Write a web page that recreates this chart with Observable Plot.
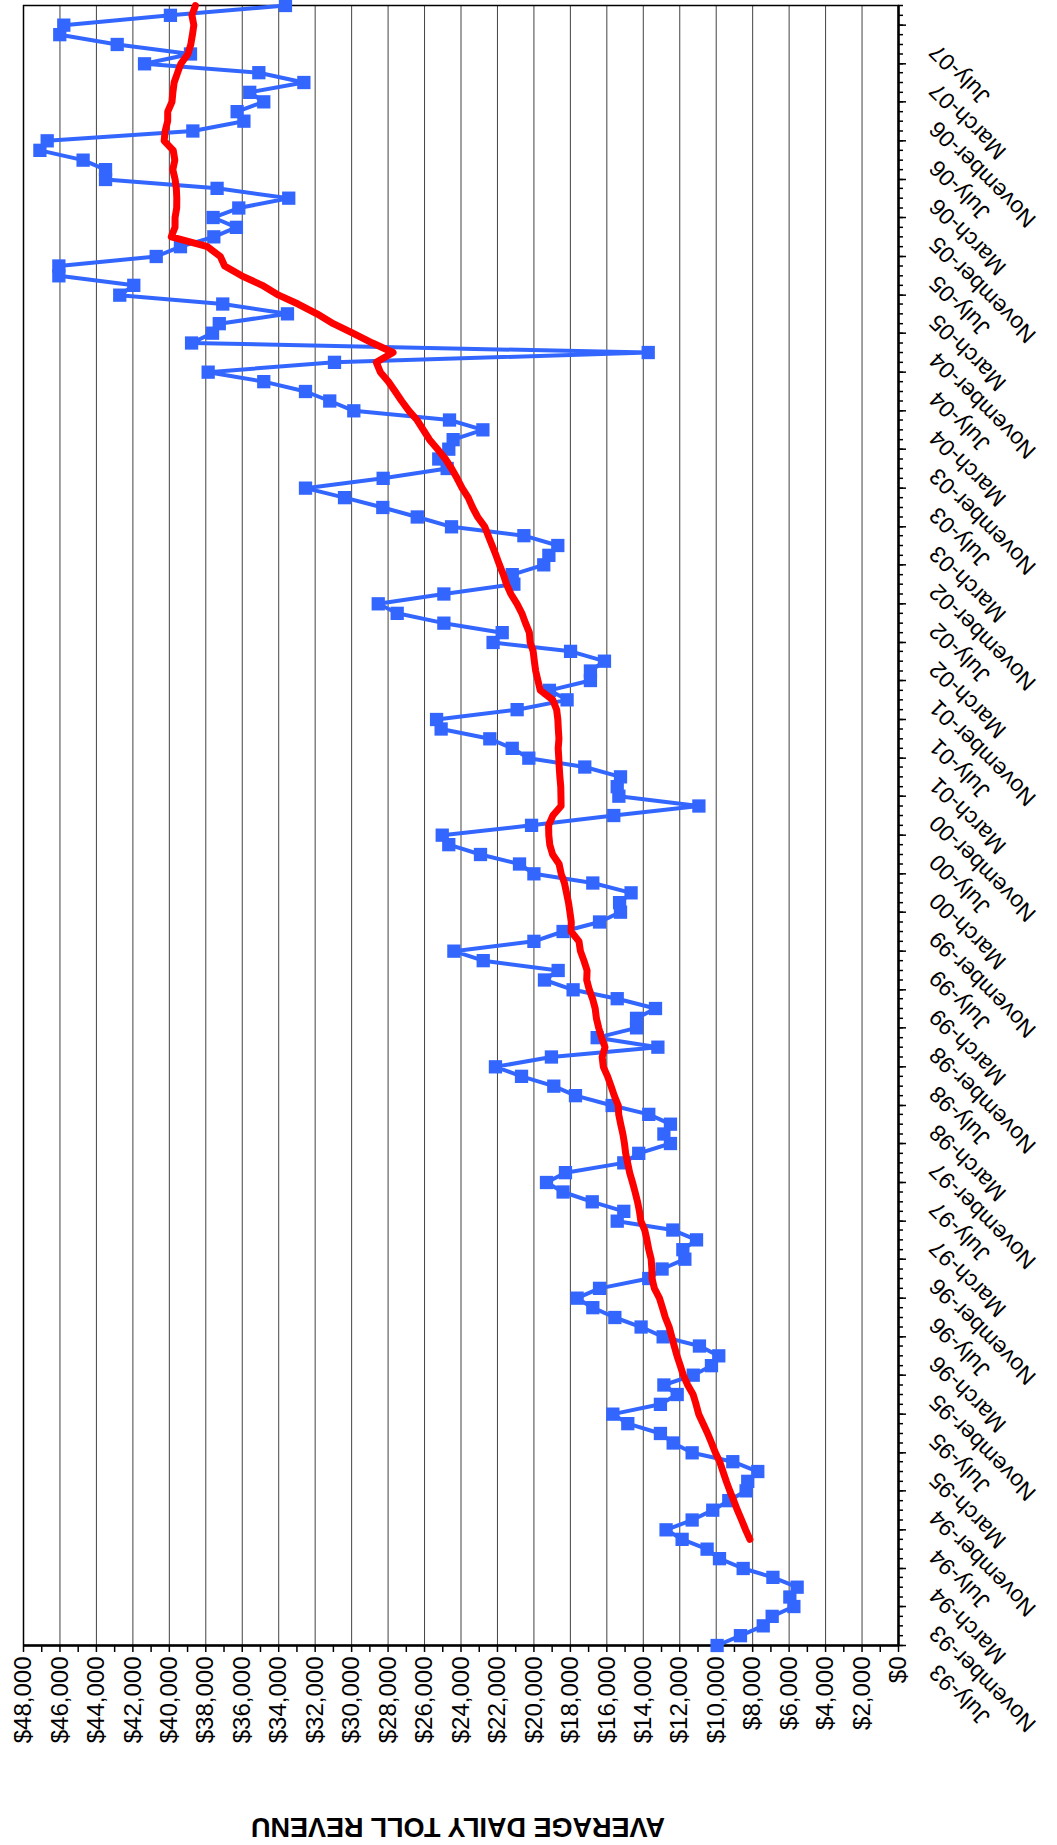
<!DOCTYPE html>
<html>
<head>
<meta charset="utf-8">
<script src="https://cdn.jsdelivr.net/npm/d3@7"></script>
<script src="https://cdn.jsdelivr.net/npm/@observablehq/plot@0.6"></script>
<style>
html, body { margin: 0; padding: 0; background: #fff; }
#wrap { position: relative; width: 1057px; height: 1845px; overflow: hidden; background: #fff; }
#chart { position: absolute; left: 0; top: 0; width: 1845px; height: 1057px;
  transform-origin: 0 0; transform: translate(0px, 1845px) rotate(-90deg); }
</style>
</head>
<body>
<div id="wrap"><div id="chart"></div></div>
<script>
// Monthly average daily toll revenue, July 1993 onward (one value per month)
const firstMonth = [1993, 6];   // July 1993 (UTC month index)
const revenue = [
  9950, 8670, 7420, 6930, 5740, 5960, 5560, 6890, 8520, 9820, 10500, 11870,
  12750, 11320, 10190, 9310, 8360, 8270, 7720, 9090, 11320, 12360, 13060, 14850,
  15670, 13060, 12140, 12870, 11260, 10260, 9860, 10920, 12910, 14120, 15560, 16770,
  17630, 16400, 13700, 12970, 11720, 11830, 11080, 12380, 15430, 15070, 16800, 18400,
  19310, 18270, 15070, 14250, 12510, 12870, 12510, 13700, 15710, 17720, 18910, 20680,
  22110, 19040, 13200, 16530, 14370, 14370, 13330, 15430, 17850, 19420, 18670, 22780,
  24390, 20000, 18400, 16400, 15250, 15300, 14670, 16770, 20000, 20790, 22930, 24670,
  25030, 20130, 15620, 10950, 15340, 15430, 15250, 17210, 20280, 21190, 22420, 25090,
  25340, 20920, 18180, 19150, 16900, 16900, 16130, 17990, 22240, 21740, 24940, 27500,
  28540, 24940, 21100, 21190, 19460, 19180, 18690, 20550, 24520, 26400, 28290, 30390,
  32530, 28270, 24760, 25220, 24670, 24430, 22800, 24630, 29880, 31200, 32530, 34820,
  37870, 30940, 13730, 38780, 37630, 37260, 33520, 37070, 42720, 41950, 46060, 46060,
  40720, 39390, 37560, 36320, 37600, 36190, 33450, 37380, 43500, 43500, 44730, 47100,
  46700, 38710, 35910, 36280, 34820, 35590, 32620, 35090, 41360, 38840, 42860, 46010,
  45790, 39940, 33630
];
const movingAvgPeriod = 12;
const valueTicks = d3.range(0, 48001, 2000);
const valueMinorTicks = d3.range(1000, 48000, 2000);
const axisTitle = "AVERAGE DAILY TOLL REVENU";

const start = new Date(Date.UTC(firstMonth[0], firstMonth[1], 1));
const months = revenue.map((_, i) => d3.utcMonth.offset(start, i));
const labelMonths = months.filter((_, i) => i % 4 === 0);
const fmtMonth = d3.utcFormat("%B-%y");
const data = revenue.map((v, i) => ({month: months[i], revenue: v}));

const font = "'Liberation Sans', Arial, Helvetica, sans-serif";

const chart = Plot.plot({
  width: 1845,
  height: 1057,
  marginLeft: 199,
  marginRight: 6,
  marginTop: 23,
  marginBottom: 159,
  style: {fontFamily: font, background: "#fff", color: "#000"},
  x: {type: "utc", domain: [months[0], months[months.length - 1]]},
  y: {domain: [0, 48000]},
  marks: [
    Plot.gridY(valueTicks, {stroke: "#222", strokeOpacity: 0.85, strokeWidth: 1}),
    Plot.frame({stroke: "#000", strokeWidth: 1.5}),
    Plot.axisY(valueMinorTicks, {tickSize: 6, tickFormat: () => "", strokeWidth: 1.5, label: null}),
    Plot.axisY(valueTicks, {tickSize: 6, tickPadding: 5, tickFormat: d3.format("$,"), fontSize: 24, strokeWidth: 1.5, label: null}),
    Plot.axisX(months, {tickSize: 5, tickFormat: () => "", strokeWidth: 1.5, label: null}),
    Plot.axisX(labelMonths, {tickSize: 8, tickFormat: () => "", strokeWidth: 1.5, label: null}),
    Plot.axisX(labelMonths, {tickSize: 0, tickPadding: 12, tickFormat: fmtMonth, tickRotate: -45, fontSize: 23, dx: -23, dy: 23, label: null}),
    Plot.ruleY([0], {stroke: "#000", strokeWidth: 2.5}),
    Plot.ruleX([months[0]], {stroke: "#000", strokeWidth: 2.5}),
    Plot.line(data, {x: "month", y: "revenue", stroke: "#3366FF", strokeWidth: 4}),
    Plot.dot(data, {x: "month", y: "revenue", symbol: "square", r: 7.5, fill: "#3366FF"}),
    Plot.line(data, Plot.windowY({k: movingAvgPeriod, anchor: "end", strict: true},
      {x: "month", y: "revenue", stroke: "#FF0000", strokeWidth: 7, strokeLinejoin: "round", strokeLinecap: "round"})),
    Plot.text([axisTitle], {frameAnchor: "left", textAnchor: "middle", dx: -181, dy: -3, rotate: -90, fontSize: 27, fontWeight: "bold", fill: "#000"})
  ]
});
document.getElementById("chart").appendChild(chart);
</script>
</body>
</html>
